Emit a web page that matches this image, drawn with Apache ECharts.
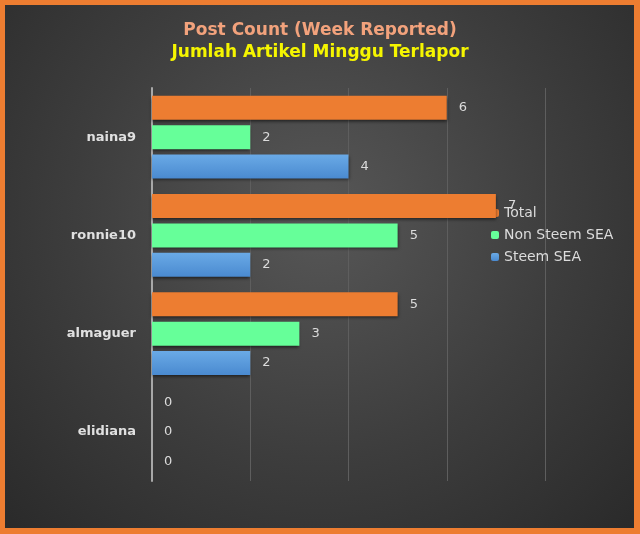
<!DOCTYPE html>
<html>
<head>
<meta charset="utf-8">
<script src="https://cdn.jsdelivr.net/npm/echarts@6/dist/echarts.min.js"></script>
<style>
  html, body { margin: 0; padding: 0; }
  #bg {
    position: absolute; left: 0; top: 0; width: 640px; height: 534px;
    box-sizing: border-box; border: 5px solid #ed7d31; border-bottom-width: 6px; border-right-width: 6px;
    background: radial-gradient(ellipse at 50% 40%, #575757 0%, #3d3d3d 55%, #2a2a2a 100%);
  }
  #main { position: absolute; left: 0; top: 0; width: 640px; height: 534px; }
</style>
</head>
<body>
<div id="bg"></div>
<div id="main"></div>
<script>
// names shown on the y axis, top to bottom
const people = ["naina9", "ronnie10", "almaguer", "elidiana"];
const totalPosts = [6, 7, 5, 0];
const nonSeaPosts = [2, 5, 3, 0];
const seaPosts = [4, 2, 2, 0];

const labelStyle = { show: true, position: "right", distance: 12, color: "#dcdcdc", fontSize: 13, fontFamily: "DejaVu Sans" };
const barShadow = { shadowColor: "rgba(0,0,0,0.55)", shadowBlur: 3, shadowOffsetY: 2 };

const chart = echarts.init(document.getElementById("main"), null, { renderer: "canvas" });
chart.setOption({
    backgroundColor: "transparent",
    animation: false,
    title: {
        text: "Post Count (Week Reported)",
        subtext: "Jumlah Artikel Minggu Terlapor",
        left: "center",
        top: 17,
        itemGap: 5,
        textStyle: { color: "#f2a27c", fontSize: 17, fontWeight: "bold", fontFamily: "DejaVu Sans" },
        subtextStyle: { color: "#f5f500", fontSize: 17, fontWeight: "bold", fontFamily: "DejaVu Sans" }
    },
    legend: {
        orient: "vertical",
        left: 486,
        top: 201,
        z: 0,
        itemWidth: 8,
        itemHeight: 8,
        itemGap: 8,
        textStyle: { color: "#dcdcdc", fontSize: 14, fontFamily: "DejaVu Sans" },
        data: ["Total", "Non Steem SEA", "Steem SEA"]
    },
    grid: { left: 152, right: 95, top: 88, bottom: 53 },
    xAxis: {
        type: "value",
        min: 0,
        max: 8,
        interval: 2,
        axisLabel: { show: false },
        axisLine: { show: false },
        axisTick: { show: false },
        splitLine: { lineStyle: { color: "#5e5e5e", width: 1 } }
    },
    yAxis: {
        type: "category",
        inverse: true,
        data: people,
        axisLine: { lineStyle: { color: "#a8a8a8", width: 2 } },
        axisTick: { show: false },
        axisLabel: { color: "#e0e0e0", fontSize: 13, fontWeight: "bold", margin: 16, fontFamily: "DejaVu Sans" }
    },
    series: [
        {
            name: "Total", type: "bar", z: 5, data: totalPosts,
            barWidth: 24, barGap: "22%",
            itemStyle: Object.assign({ color: "#ed7d31" }, barShadow),
            label: labelStyle
        },
        {
            name: "Non Steem SEA", type: "bar", z: 5, data: nonSeaPosts,
            barWidth: 24, barGap: "22%",
            itemStyle: Object.assign({ color: "#66ff99" }, barShadow),
            label: labelStyle
        },
        {
            name: "Steem SEA", type: "bar", z: 5, data: seaPosts,
            barWidth: 24, barGap: "22%",
            itemStyle: Object.assign({
                color: new echarts.graphic.LinearGradient(0, 0, 0, 1, [
                    { offset: 0, color: "#6aaae6" },
                    { offset: 1, color: "#4a8ad0" }
                ])
            }, barShadow),
            label: labelStyle
        }
    ]
});
</script>
</body>
</html>
